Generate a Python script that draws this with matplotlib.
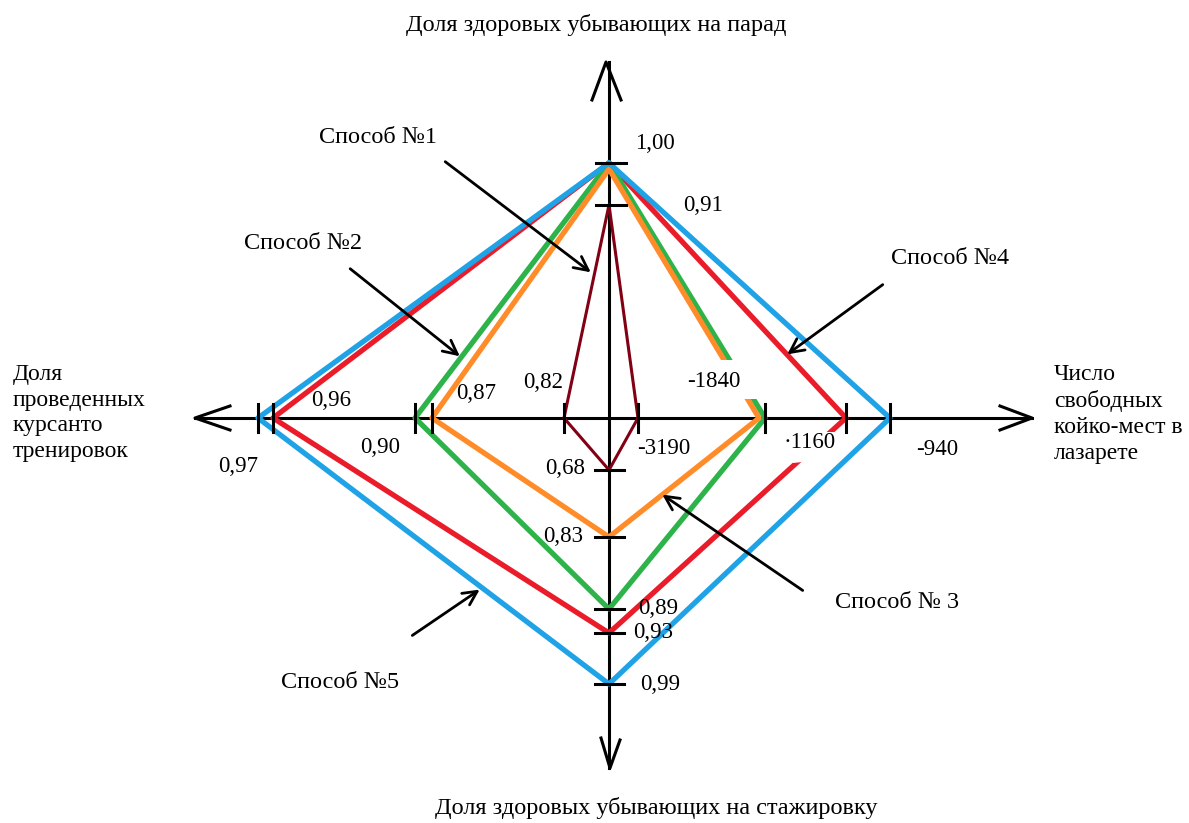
import numpy as np
import matplotlib
matplotlib.use('Agg')
import matplotlib.pyplot as plt
from matplotlib.patches import Polygon

plt.rcParams['font.family'] = ['Liberation Serif', 'DejaVu Serif']

# Method values on the four axes: top, right, bottom, left
methods = ['Способ №1', 'Способ №2', 'Способ №3', 'Способ №4', 'Способ №5']
parade = [0.91, 1.00, 1.00, 1.00, 1.00]          # top axis
beds = [-3190, -1840, -1840, -1160, -940]        # right axis
intern = [0.68, 0.89, 0.83, 0.93, 0.99]          # bottom axis
trainings = [0.82, 0.90, 0.87, 0.96, 0.97]       # left axis

# Tick values on each axis (hand-drawn, non-uniform scales)
top_ticks = [0.91, 1.00]
right_ticks = [-3190, -1840, -1160, -940]
bottom_ticks = [0.68, 0.83, 0.89, 0.93, 0.99]
left_ticks = [0.82, 0.87, 0.90, 0.96, 0.97]

# layout: pixel distance of each tick from the centre
top_dist = [213, 255]
right_dist = [29, 156, 237, 281]
bottom_dist = [52, 119, 191, 215, 266]
left_dist = [45, 177, 194, 336, 351]

cx, cy = 609, 418
colors = ['#820014', '#2db34a', '#ff8c28', '#ea1c2a', '#1fa3e6']
widths = [2.2, 3.8, 3.8, 3.8, 3.8]
inset = [0, 0, 6, 0, 0]        # hand-drawn offset so coinciding lines stay visible
draw_order = [3, 1, 2, 4, 0]   # red, green, orange, blue, dark red


def top_pos(v, d=0):
    return cx, cy - np.interp(v, top_ticks, top_dist) + d


def right_pos(v, d=0):
    return cx + np.interp(v, right_ticks, right_dist) - d, cy


def bottom_pos(v):
    return cx, cy + np.interp(v, bottom_ticks, bottom_dist)


def left_pos(v):
    return cx - np.interp(v, left_ticks, left_dist), cy


fig = plt.figure(figsize=(11.89, 8.23), dpi=100)
ax = fig.add_axes([0, 0, 1, 1])
ax.set_xlim(0, 1189)
ax.set_ylim(823, 0)
ax.axis('off')

# axes with open arrow heads
ax.plot([cx, cx], [62, 768], color='black', lw=2.2, zorder=1)
ax.plot([195, 1032], [cy, cy], color='black', lw=2.2, zorder=1)
ax.plot([592, 606, 621], [100, 62, 100], color='black', lw=2.2, zorder=1)
ax.plot([601, 610, 620], [738, 768, 740], color='black', lw=2.2, zorder=1)
ax.plot([230, 195, 230], [406, cy, 430], color='black', lw=2.2, zorder=1)
ax.plot([1000, 1032, 1000], [406, cy, 430], color='black', lw=2.2, zorder=1)

# polygons
for i in draw_order:
    pts = [top_pos(parade[i], inset[i]), right_pos(beds[i], inset[i]),
           bottom_pos(intern[i]), left_pos(trainings[i]),
           top_pos(parade[i], inset[i])]
    xs = [p[0] for p in pts]
    ys = [p[1] for p in pts]
    ax.plot(xs, ys, color=colors[i], lw=widths[i], solid_joinstyle='round',
            solid_capstyle='round', zorder=2)

# erased bits of the hand drawing
ax.add_patch(Polygon([(718, 360), (764, 360), (764, 399), (718, 399)],
                     closed=True, facecolor='white', edgecolor='none', zorder=3))
ax.add_patch(Polygon([(793, 432), (843, 432), (841, 458), (793, 463)],
                     closed=True, facecolor='white', edgecolor='none', zorder=3))

# ticks
for v in top_ticks:
    x, y = top_pos(v)
    ax.plot([x - 13, x + 17], [y, y], color='black', lw=2.2, zorder=4)
for v in bottom_ticks:
    x, y = bottom_pos(v)
    ax.plot([x - 14, x + 15], [y, y], color='black', lw=2.2, zorder=4)
for v in right_ticks:
    x, y = right_pos(v)
    ax.plot([x, x], [y - 14, y + 14], color='black', lw=2.2, zorder=4)
for v in left_ticks:
    x, y = left_pos(v)
    ax.plot([x, x], [y - 14, y + 14], color='black', lw=2.2, zorder=4)

# value labels
lab = dict(fontsize=16.5, ha='center', va='center', color='black', zorder=5)
ax.text(655, 143, '1,00', **lab)
ax.text(703, 205, '0,91', **lab)
ax.text(543, 382, '0,82', **lab)
ax.text(476, 393, '0,87', **lab)
ax.text(331, 400, '0,96', **lab)
ax.text(238, 466, '0,97', **lab)
ax.text(380, 447, '0,90', **lab)
ax.text(664, 448, '-3190', **lab)
ax.text(714, 381, '-1840', **lab)
ax.text(810, 442, '·1160', **lab)
ax.text(937, 449, '-940', **lab)
ax.text(565, 468, '0,68', **lab)
ax.text(563, 537, '0,83', **lab)
ax.text(658, 608, '0,89', **lab)
ax.text(653, 633, '0,93', **lab)
ax.text(660, 684, '0,99', **lab)

# axis titles
ax.text(596, 25, 'Доля здоровых убывающих на парад', fontsize=17.5,
        ha='center', va='center')
ax.text(656, 808, 'Доля здоровых убывающих на стажировку', fontsize=17.5,
        ha='center', va='center')
ax.text(13, 413, 'Доля\nпроведенных\nкурсанто\nтренировок', fontsize=17,
        ha='left', va='center', linespacing=1.3)
ax.text(1054, 414, 'Число\nсвободных\nкойко-мест в\nлазарете', fontsize=17,
        ha='left', va='center', linespacing=1.3)

# method callouts
arr = dict(arrowstyle='->,head_length=1.0,head_width=0.5', color='black', lw=2)
ax.annotate('', xy=(593, 274), xytext=(443, 160), arrowprops=arr)
ax.annotate('', xy=(462, 358), xytext=(348, 267), arrowprops=arr)
ax.annotate('', xy=(660, 493), xytext=(805, 592), arrowprops=arr)
ax.annotate('', xy=(785, 356), xytext=(885, 283), arrowprops=arr)
ax.annotate('', xy=(482, 588), xytext=(410, 637), arrowprops=arr)
call = dict(lab, fontsize=17.5)
ax.text(378, 137, 'Способ №1', **call)
ax.text(303, 243, 'Способ №2', **call)
ax.text(897, 602, 'Способ № 3', **call)
ax.text(950, 258, 'Способ №4', **call)
ax.text(340, 683, 'Способ №5', **call)

fig.savefig('out.png', dpi=100, facecolor='white')
